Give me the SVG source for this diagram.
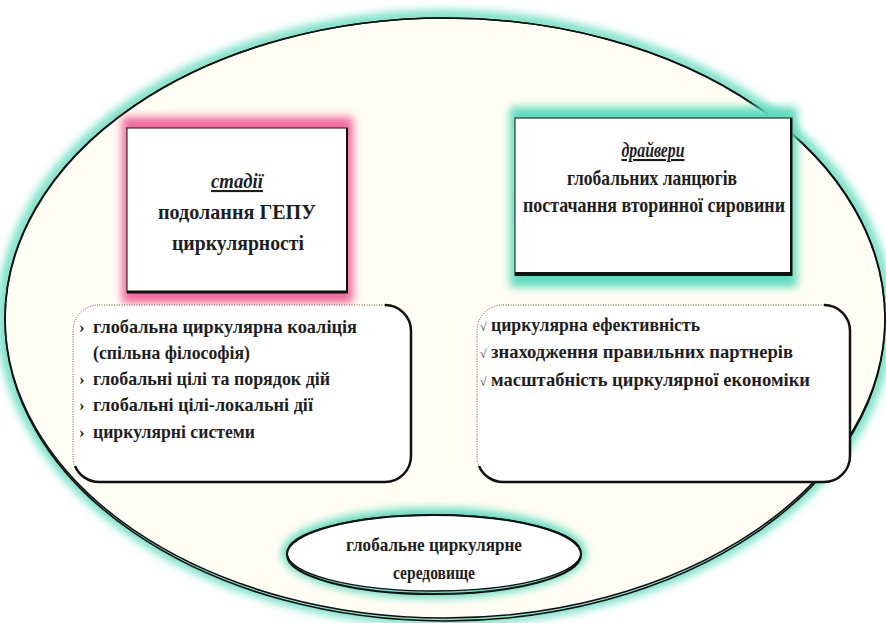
<svg xmlns="http://www.w3.org/2000/svg" width="886" height="623" viewBox="0 0 886 623">
<defs>
<filter id="glow" x="-20%" y="-20%" width="140%" height="140%"><feGaussianBlur stdDeviation="5"/></filter>
<filter id="glowS" x="-20%" y="-40%" width="140%" height="180%"><feGaussianBlur stdDeviation="4"/></filter>
</defs>
<rect width="886" height="623" fill="#ffffff"/>
<g id="environment">
<ellipse cx="445" cy="318" rx="442" ry="302" fill="none" stroke="#5fdcbc" stroke-width="10" filter="url(#glow)"/>
<ellipse cx="445" cy="318" rx="440" ry="300" fill="#fffdf4"/>
<ellipse cx="445" cy="319.5" rx="440" ry="301.5" fill="none" stroke="#111" stroke-width="1.6"/>
<ellipse cx="445" cy="318" rx="440" ry="300" fill="none" stroke="#111" stroke-width="1.6"/>
</g>
<g id="stages">
<rect x="122" y="117" width="231" height="186" fill="#f06a9c" filter="url(#glowS)"/>
<rect x="127" y="128" width="220" height="164" fill="#fff" stroke="#333" stroke-width="1.2"/>
<line x1="127" y1="292" x2="348" y2="292" stroke="#111" stroke-width="3"/>
<line x1="347" y1="128" x2="347" y2="292" stroke="#111" stroke-width="2"/>
<text x="237" y="188" font-family="Liberation Serif, serif" font-size="21" font-weight="bold" font-style="italic" text-decoration="underline" fill="#1e1e1e" text-anchor="middle" textLength="52" lengthAdjust="spacingAndGlyphs">стадії</text>
<text x="237" y="219" font-family="Liberation Serif, serif" font-size="21" font-weight="bold" fill="#1e1e1e" text-anchor="middle" textLength="158" lengthAdjust="spacingAndGlyphs">подолання ГЕПУ</text>
<text x="238" y="250" font-family="Liberation Serif, serif" font-size="21" font-weight="bold" fill="#1e1e1e" text-anchor="middle" textLength="132" lengthAdjust="spacingAndGlyphs">циркулярності</text>
</g>
<g id="drivers">
<rect x="510" y="107" width="287" height="180" fill="#5fdcbc" filter="url(#glowS)"/>
<rect x="515" y="118" width="277" height="157" fill="#fff" stroke="#333" stroke-width="1.2"/>
<line x1="515" y1="274" x2="792" y2="274" stroke="#111" stroke-width="4"/>
<line x1="791" y1="118" x2="791" y2="275" stroke="#111" stroke-width="2"/>
<text x="653" y="157" font-family="Liberation Serif, serif" font-size="21" font-weight="bold" font-style="italic" text-decoration="underline" fill="#1e1e1e" text-anchor="middle" textLength="63" lengthAdjust="spacingAndGlyphs">драйвери</text>
<text x="652" y="185" font-family="Liberation Serif, serif" font-size="21" font-weight="bold" fill="#1e1e1e" text-anchor="middle" textLength="170" lengthAdjust="spacingAndGlyphs">глобальних ланцюгів</text>
<text x="654" y="212" font-family="Liberation Serif, serif" font-size="21" font-weight="bold" fill="#1e1e1e" text-anchor="middle" textLength="262" lengthAdjust="spacingAndGlyphs">постачання вторинної сировини</text>
</g>
<g id="stages-list">
<rect x="73" y="305" width="338" height="177" rx="26" ry="26" fill="#fff" stroke="#555" stroke-width="1" stroke-dasharray="1 1.5"/>
<path d="M385 305 A26 26 0 0 1 411 331 L411 456 A26 26 0 0 1 385 482 L99 482 A26 26 0 0 1 75 466" fill="none" stroke="#111" stroke-width="2.5"/>
<text x="79" y="333" font-family="Liberation Serif, serif" font-size="17" font-weight="bold" fill="#222">›</text>
<text x="93" y="333" font-family="Liberation Serif, serif" font-size="19" font-weight="bold" fill="#1e1e1e" textLength="264" lengthAdjust="spacingAndGlyphs">глобальна циркулярна коаліція</text>
<text x="93" y="359" font-family="Liberation Serif, serif" font-size="19" font-weight="bold" fill="#1e1e1e" textLength="157" lengthAdjust="spacingAndGlyphs">(спільна філософія)</text>
<text x="79" y="385" font-family="Liberation Serif, serif" font-size="17" font-weight="bold" fill="#222">›</text>
<text x="93" y="385" font-family="Liberation Serif, serif" font-size="19" font-weight="bold" fill="#1e1e1e" textLength="237" lengthAdjust="spacingAndGlyphs">глобальні цілі та порядок дій</text>
<text x="79" y="411" font-family="Liberation Serif, serif" font-size="17" font-weight="bold" fill="#222">›</text>
<text x="93" y="411" font-family="Liberation Serif, serif" font-size="19" font-weight="bold" fill="#1e1e1e" textLength="220" lengthAdjust="spacingAndGlyphs">глобальні цілі-локальні дії</text>
<text x="79" y="438" font-family="Liberation Serif, serif" font-size="17" font-weight="bold" fill="#222">›</text>
<text x="93" y="438" font-family="Liberation Serif, serif" font-size="19" font-weight="bold" fill="#1e1e1e" textLength="162" lengthAdjust="spacingAndGlyphs">циркулярні системи</text>
</g>
<g id="drivers-list">
<rect x="477" y="305" width="373" height="177" rx="26" ry="26" fill="#fff" stroke="#555" stroke-width="1" stroke-dasharray="1 1.5"/>
<path d="M824 305 A26 26 0 0 1 850 331 L850 456 A26 26 0 0 1 824 482 L503 482 A26 26 0 0 1 479 466" fill="none" stroke="#111" stroke-width="2.5"/>
<text x="480" y="331" font-family="Liberation Serif, serif" font-size="12" fill="#333">√</text>
<text x="491" y="331" font-family="Liberation Serif, serif" font-size="19" font-weight="bold" fill="#1e1e1e" textLength="209" lengthAdjust="spacingAndGlyphs">циркулярна ефективність</text>
<text x="480" y="358" font-family="Liberation Serif, serif" font-size="12" fill="#333">√</text>
<text x="491" y="358" font-family="Liberation Serif, serif" font-size="19" font-weight="bold" fill="#1e1e1e" textLength="302" lengthAdjust="spacingAndGlyphs">знаходження правильних партнерів</text>
<text x="480" y="386" font-family="Liberation Serif, serif" font-size="12" fill="#333">√</text>
<text x="491" y="386" font-family="Liberation Serif, serif" font-size="19" font-weight="bold" fill="#1e1e1e" textLength="319" lengthAdjust="spacingAndGlyphs">масштабність циркулярної економіки</text>
</g>
<g id="circular-environment">
<ellipse cx="434" cy="553" rx="152" ry="45" fill="#5fdcbc" filter="url(#glowS)"/>
<ellipse cx="434" cy="553" rx="147" ry="38" fill="#fff"/>
<ellipse cx="434" cy="554.5" rx="147" ry="39.5" fill="none" stroke="#111" stroke-width="2"/>
<ellipse cx="434" cy="553" rx="147" ry="38" fill="none" stroke="#111" stroke-width="1.4"/>
<text x="434" y="551" font-family="Liberation Serif, serif" font-size="19" font-weight="bold" fill="#1e1e1e" text-anchor="middle" textLength="176" lengthAdjust="spacingAndGlyphs">глобальне циркулярне</text>
<text x="434" y="579" font-family="Liberation Serif, serif" font-size="19" font-weight="bold" fill="#1e1e1e" text-anchor="middle" textLength="82" lengthAdjust="spacingAndGlyphs">середовище</text>
</g>
<g id="connectors"></g>
</svg>
